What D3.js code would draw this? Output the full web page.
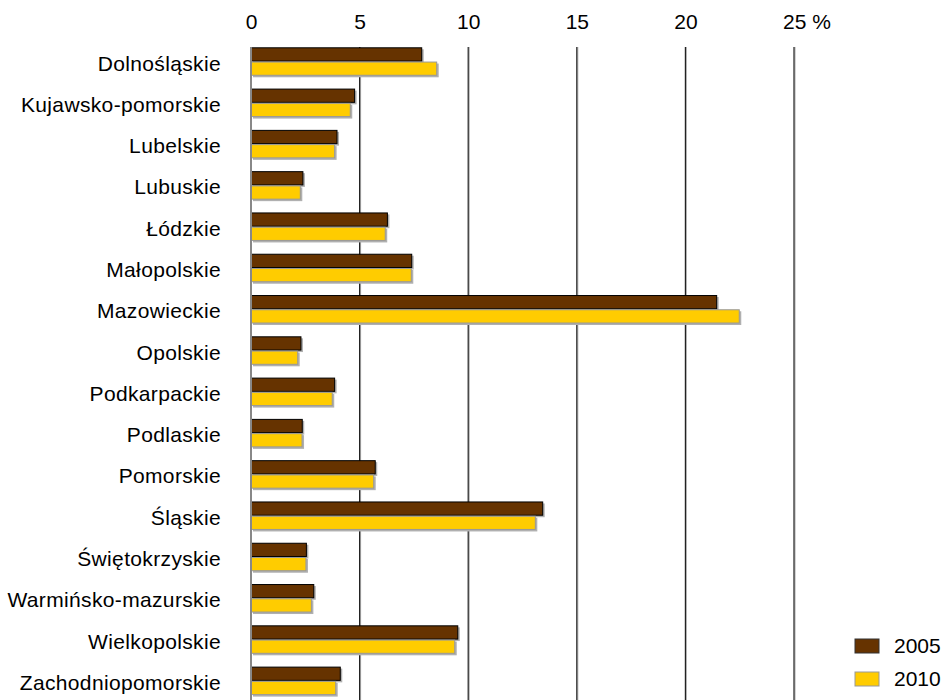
<!DOCTYPE html>
<html><head><meta charset="utf-8">
<script src="https://cdn.jsdelivr.net/npm/d3@7"></script>
<style>body{margin:0;background:#fff}svg{display:block}text{font-family:"Liberation Sans",Arial,sans-serif;fill:#000}</style>
</head><body><svg id="c" width="944" height="700"></svg>
<script>
const categories = ["Dolnośląskie","Kujawsko-pomorskie","Lubelskie","Lubuskie","Łódzkie","Małopolskie","Mazowieckie","Opolskie","Podkarpackie","Podlaskie","Pomorskie","Śląskie","Świętokrzyskie","Warmińsko-mazurskie","Wielkopolskie","Zachodniopomorskie"];
const series = ["2005","2010"];
const values2005 = [7.86,4.77,3.96,2.39,6.28,7.40,21.44,2.30,3.85,2.36,5.72,13.43,2.55,2.89,9.52,4.11];
const values2010 = [8.55,4.57,3.85,2.27,6.18,7.38,22.48,2.15,3.74,2.35,5.65,13.09,2.53,2.78,9.38,3.90];
const tickValues = [0,5,10,15,20,25];
const tickLabels = ["0","5","10","15","20","25 %"];
const colors = {"2005":"#663300","2010":"#FFCC00"};
const strokes = {"2005":"#000000","2010":"#999999"};

const svg = d3.select("#c");
const x = d3.scaleLinear().domain([0,25]).range([251,794]);
const y = d3.scaleBand().domain(categories).range([34.5,707.9]).padding(0.31);
const sub = d3.scaleBand().domain(series).range([0,y.bandwidth()]);
const dataBy = {"2005":values2005,"2010":values2010};

// gridlines
const grid = svg.append("g");
tickValues.forEach((t,i)=>{
  if(i===0) return;
  grid.append("line").attr("x1",x(t)+1).attr("x2",x(t)+1).attr("y1",47).attr("y2",700).attr("stroke","#aaa").attr("stroke-width",1);
  grid.append("line").attr("x1",x(t)).attr("x2",x(t)).attr("y1",47).attr("y2",700).attr("stroke","#222").attr("stroke-width",1.2);
});

// top axis labels
const axis = d3.axisTop(x).tickValues(tickValues).tickSize(0).tickPadding(0).tickFormat((d,i)=>tickLabels[i]);
const ax = svg.append("g").attr("transform","translate(0,29)").call(axis);
ax.select(".domain").remove();
ax.selectAll("text").attr("font-size",21).attr("font-family","Liberation Sans, Arial, sans-serif").attr("fill","#000").attr("dy",0);
ax.selectAll(".tick").each(function(d,i){
  if(i===tickLabels.length-1){
    const t=d3.select(this).select("text");
    t.attr("text-anchor","start").attr("x",-11.5);
  }
});

// bars
const g = svg.append("g");
series.forEach(s=>{
  categories.forEach((c,i)=>{
    const v = dataBy[s][i];
    const yy = y(c)+sub(s);
    const h = sub.bandwidth();
    g.append("rect").attr("x",x(0)+2).attr("y",yy+2).attr("width",x(v)-x(0)).attr("height",h-0.5).attr("fill","#b0b0b0");
  });
});
series.forEach(s=>{
  categories.forEach((c,i)=>{
    const v = dataBy[s][i];
    const yy = y(c)+sub(s);
    const h = sub.bandwidth();
    g.append("rect").attr("x",x(0)).attr("y",yy+0.5).attr("width",x(v)-x(0)).attr("height",h-1)
      .attr("fill",colors[s]).attr("stroke",strokes[s]).attr("stroke-width",1);
  });
});

// zero line
svg.append("line").attr("x1",x(0)).attr("x2",x(0)).attr("y1",47).attr("y2",700).attr("stroke","#888").attr("stroke-width",2);

// category labels
svg.append("g").selectAll("text").data(categories).join("text")
  .attr("x",221).attr("y",d=>y(d)+y.bandwidth()/2+9)
  .attr("text-anchor","end").attr("font-size",21).attr("letter-spacing","0.35px").text(d=>d);

// legend
const leg = svg.append("g");
series.forEach((s,i)=>{
  const ly = 639 + i*33;
  leg.append("rect").attr("x",855).attr("y",ly).attr("width",24).attr("height",14)
    .attr("fill",colors[s]).attr("stroke",s==="2005"?"#333":"#999").attr("stroke-width",1);
  leg.append("text").attr("x",894).attr("y",ly+14).attr("font-size",21).text(s);
});
</script></body></html>
